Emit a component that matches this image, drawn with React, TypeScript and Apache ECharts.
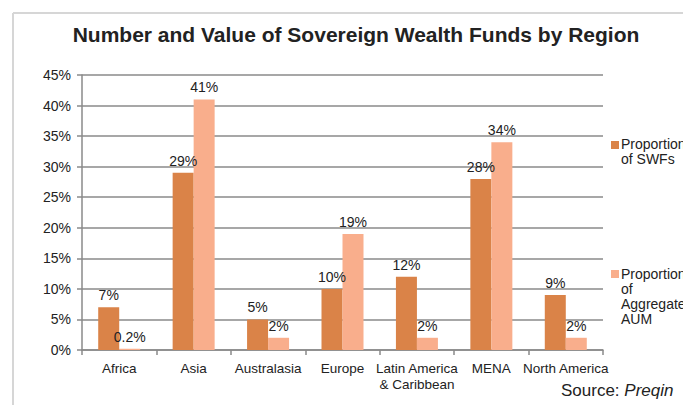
import React, { useEffect, useRef } from "react";
import * as echarts from "echarts";

const categories = ["Africa", "Asia", "Australasia", "Europe", "Latin America\n& Caribbean", "MENA", "North America"];
const swfShare = [7, 29, 5, 10, 12, 28, 9];
const aumShare = [0.2, 41, 2, 19, 2, 34, 2];
const seriesNames = ["Proportion of SWFs", "Proportion of Aggregate AUM"];
const legendLabels = ["Proportion\nof SWFs", "Proportion\nof\nAggregate\nAUM"];

const C1 = "#DA8348";
const C2 = "#F9AE8C";
const FONT = "Liberation Sans, Arial, sans-serif";

export default function App() {
  const ref = useRef<HTMLDivElement>(null);
  useEffect(() => {
    document.body.style.margin = "0";
    const chart = echarts.init(ref.current!, null, { renderer: "svg" });
    const fmt = (p: any) => `${p.value}%`;
    chart.setOption({
      animation: false,
      backgroundColor: "#ffffff",
      textStyle: { fontFamily: FONT },
      title: {
        text: "Number and Value of Sovereign Wealth Funds by Region",
        left: 351,
        textAlign: "center",
        top: 19,
        textStyle: { fontSize: 21, fontWeight: "bold", color: "#222", fontFamily: FONT },
      },
      grid: { left: 82, right: 80, top: 75, bottom: 55, containLabel: false },
      xAxis: {
        type: "category",
        data: categories,
        axisLine: { lineStyle: { color: "#8a8a8a", width: 1.5 } },
        axisTick: { show: true, length: 5, lineStyle: { color: "#8a8a8a", width: 1.5 } },
        axisLabel: { color: "#222", fontSize: 13.5, fontFamily: FONT, margin: 10, lineHeight: 16, interval: 0 },
      },
      yAxis: {
        type: "value",
        min: 0,
        max: 45,
        interval: 5,
        axisLine: { show: true, lineStyle: { color: "#8a8a8a", width: 1.5 } },
        axisTick: { show: true, length: 5, lineStyle: { color: "#8a8a8a", width: 1.5 } },
        splitLine: { lineStyle: { color: "#8a8a8a", width: 1.5 } },
        axisLabel: { formatter: "{value}%", color: "#222", fontSize: 14, fontFamily: FONT, margin: 11 },
      },
      series: [
        {
          name: seriesNames[0],
          type: "bar",
          data: swfShare,
          barWidth: 21,
          barGap: "0%",
          itemStyle: { color: C1 },
          label: { show: true, position: "top", formatter: fmt, color: "#222", fontSize: 14, fontFamily: FONT, distance: 5 },
        },
        {
          name: seriesNames[1],
          type: "bar",
          data: aumShare,
          barWidth: 21,
          barGap: "0%",
          itemStyle: { color: C2 },
          label: { show: true, position: "top", formatter: fmt, color: "#222", fontSize: 14, fontFamily: FONT, distance: 5 },
        },
      ],
      graphic: [
        { type: "line", shape: { x1: 13, y1: 13, x2: 700, y2: 13 }, style: { stroke: "#d6d6d6", lineWidth: 2 } },
        { type: "line", shape: { x1: 13, y1: 13, x2: 13, y2: 420 }, style: { stroke: "#d6d6d6", lineWidth: 2 } },
        { type: "rect", shape: { x: 611, y: 141, width: 8, height: 8 }, style: { fill: C1 } },
        { type: "text", x: 621, y: 137, style: { text: legendLabels[0], font: `14px ${FONT}`, fill: "#222", lineHeight: 14.5 } },
        { type: "rect", shape: { x: 611, y: 270, width: 8, height: 8 }, style: { fill: C2 } },
        { type: "text", x: 621, y: 266, style: { text: legendLabels[1], font: `14px ${FONT}`, fill: "#222", lineHeight: 15 } },
        {
          type: "text",
          x: 561,
          y: 382,
          style: {
            text: "{n|Source: }{i|Preqin}",
            rich: {
              n: { fontSize: 17, fontFamily: FONT, fill: "#222", color: "#222" },
              i: { fontSize: 17, fontFamily: FONT, fontStyle: "italic", fill: "#222", color: "#222" },
            },
          },
        },
      ],
    });
    return () => chart.dispose();
  }, []);
  return <div ref={ref} style={{ width: 683, height: 405 }} />;
}
